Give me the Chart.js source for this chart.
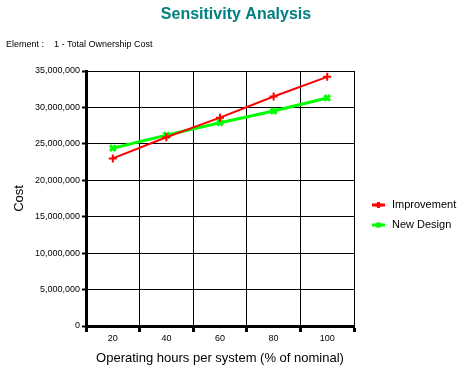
<!DOCTYPE html>
<html>
<head>
<meta charset="utf-8">
<title>Sensitivity Analysis</title>
<script src="https://cdn.jsdelivr.net/npm/chart.js@4/dist/chart.umd.min.js"></script>
<style>
    html, body { margin: 0; padding: 0; background: #ffffff; }
    canvas { display: block; }
</style>
</head>
<body>
<canvas id="sensChart" width="466" height="366"></canvas>
<script>
// Chart data
const hoursLabels = ['20', '40', '60', '80', '100'];
const improvementCost = [23000000, 25900000, 28600000, 31500000, 34200000];
const newDesignCost = [24400000, 26200000, 27900000, 29500000, 31300000];
const costTicks = [0, 5000000, 10000000, 15000000, 20000000, 25000000, 30000000, 35000000];

const FONT = "'Liberation Sans', Arial, sans-serif";

/**
 * Legend drawn to the right of the plot: short line with the series marker
 */
const sideLegend = {
    id: 'sideLegend',
    afterDraw(chart) {
        const ctx = chart.ctx;
        const area = chart.chartArea;
        const x0 = area.right + 18;
        const y0 = 205;
        chart.data.datasets.forEach((ds, i) => {
            const y = y0 + i * 20;
            ctx.save();
            ctx.strokeStyle = ds.borderColor;
            ctx.lineWidth = 3;
            ctx.beginPath();
            ctx.moveTo(x0, y);
            ctx.lineTo(x0 + 13, y);
            ctx.stroke();
            Chart.helpers.drawPoint(ctx, {
                pointStyle: ds.pointStyle,
                radius: ds.pointRadius - 1,
                borderWidth: ds.pointBorderWidth,
                rotation: 0
            }, x0 + 6.5, y);
            ctx.fillStyle = '#000000';
            ctx.font = '11px ' + FONT;
            ctx.textBaseline = 'middle';
            ctx.textAlign = 'left';
            ctx.fillText(ds.label, x0 + 20, y);
            ctx.restore();
        });
    }
};

const ctx = document.getElementById('sensChart').getContext('2d');
new Chart(ctx, {
    type: 'line',
    data: {
        labels: hoursLabels,
        datasets: [{
            label: 'Improvement',
            data: improvementCost,
            borderColor: '#ff0000',
            backgroundColor: '#ff0000',
            borderWidth: 2,
            pointStyle: 'cross',
            pointRadius: 4,
            pointBorderWidth: 2,
            tension: 0
        }, {
            label: 'New Design',
            data: newDesignCost,
            borderColor: '#00ff00',
            backgroundColor: '#00ff00',
            borderWidth: 3,
            pointStyle: 'crossRot',
            pointRadius: 4,
            pointBorderWidth: 3,
            tension: 0
        }]
    },
    options: {
        responsive: false,
        animation: false,
        layout: {
            padding: { left: 6, right: 0, top: 0, bottom: 0 }
        },
        scales: {
            x: {
                type: 'category',
                offset: true,
                grid: {
                    offset: true,
                    color: '#000000',
                    lineWidth: 1,
                    tickLength: 6,
                    tickWidth: 3,
                    tickColor: '#000000'
                },
                border: { color: '#000000', width: 3 },
                ticks: {
                    color: '#000000',
                    padding: 1,
                    maxRotation: 0,
                    font: { family: FONT, size: 9 }
                },
                title: {
                    display: true,
                    text: 'Operating hours per system (% of nominal)',
                    color: '#000000',
                    padding: { top: 2, bottom: 0 },
                    font: { family: FONT, size: 13 }
                },
                afterFit: function(scale) {
                    scale.height = 40;
                }
            },
            y: {
                min: 0,
                max: 35000000,
                afterBuildTicks: function(scale) {
                    scale.ticks = costTicks.map(v => ({ value: v }));
                },
                grid: {
                    color: '#000000',
                    lineWidth: 1,
                    tickLength: 4,
                    tickWidth: 2,
                    tickColor: '#000000'
                },
                border: { color: '#000000', width: 3 },
                ticks: {
                    color: '#000000',
                    padding: 2,
                    font: { family: FONT, size: 9 },
                    callback: function(value) {
                        return value.toString().replace(/\B(?=(\d{3})+(?!\d))/g, ',');
                    }
                },
                title: {
                    display: true,
                    text: 'Cost',
                    color: '#000000',
                    padding: { top: 6, bottom: 0 },
                    font: { family: FONT, size: 13 }
                },
                afterFit: function(scale) {
                    scale.width = 80;
                }
            },
            // empty right-hand strip that holds the legend
            legendSpace: {
                type: 'linear',
                position: 'right',
                display: true,
                grid: { display: false, drawOnChartArea: false },
                border: { display: false },
                ticks: { display: false },
                afterFit: function(scale) {
                    scale.width = 112;
                }
            }
        },
        plugins: {
            legend: { display: false },
            tooltip: { enabled: false },
            title: {
                display: true,
                text: 'Sensitivity Analysis',
                color: '#008080',
                font: { family: FONT, size: 16, weight: 'bold' },
                padding: { top: 5, bottom: 7 }
            },
            subtitle: {
                display: true,
                text: 'Element :    1 - Total Ownership Cost',
                align: 'start',
                color: '#000000',
                font: { family: FONT, size: 9 },
                padding: { top: 8, bottom: 21 }
            }
        }
    },
    plugins: [sideLegend]
});
</script>
</body>
</html>
